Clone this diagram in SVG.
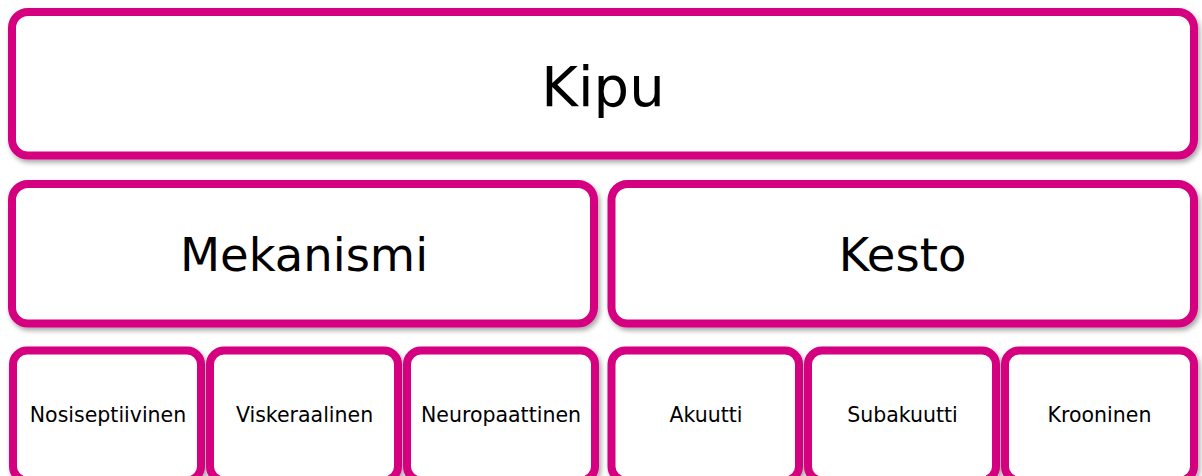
<svg xmlns="http://www.w3.org/2000/svg" width="1202" height="476" viewBox="0 0 1202 476">
  <defs>
    <filter id="shadow" x="-5%" y="-5%" width="110%" height="120%">
      <feDropShadow dx="2" dy="3" stdDeviation="2.5" flood-color="#000" flood-opacity="0.35"/>
    </filter>
  </defs>
  <style>
    .box { fill: #ffffff; stroke: #D5007F; stroke-width: 8; filter: url(#shadow); }
    .label { font-family: "DejaVu Sans", Verdana, sans-serif; fill: #000000; text-anchor: middle; }
    .l1 { font-size: 56px; }
    .l2 { font-size: 46.5px; }
    .l3 { font-size: 20.5px; }
  </style>
  <rect width="1202" height="476" fill="#ffffff"/>

  <!-- connectors: none, the hierarchy is shown by stacked blocks -->
  <g id="connectors"></g>

  <g id="kipu">
    <rect class="box" x="12" y="12" width="1182" height="143.5" rx="16"/>
    <text class="label l1" x="603" y="106">Kipu</text>
  </g>

  <g id="mekanismi">
    <rect class="box" x="12" y="184" width="582" height="139.5" rx="16"/>
    <text class="label l2" x="304" y="271">Mekanismi</text>
  </g>

  <g id="kesto">
    <rect class="box" x="611.5" y="184" width="582.5" height="139.5" rx="16"/>
    <text class="label l2" x="902.5" y="271">Kesto</text>
  </g>

  <g id="nosiseptiivinen">
    <rect class="box" x="13" y="350.5" width="188" height="130" rx="14"/>
    <text class="label l3" x="108" y="422">Nosiseptiivinen</text>
  </g>

  <g id="viskeraalinen">
    <rect class="box" x="210" y="350.5" width="188" height="130" rx="14"/>
    <text class="label l3" x="304.5" y="422">Viskeraalinen</text>
  </g>

  <g id="neuropaattinen">
    <rect class="box" x="407" y="350.5" width="188" height="130" rx="14"/>
    <text class="label l3" x="501" y="422">Neuropaattinen</text>
  </g>

  <g id="akuutti">
    <rect class="box" x="611.5" y="350.5" width="187.5" height="130" rx="14"/>
    <text class="label l3" x="706" y="422">Akuutti</text>
  </g>

  <g id="subakuutti">
    <rect class="box" x="808" y="350.5" width="188" height="130" rx="14"/>
    <text class="label l3" x="902.5" y="422">Subakuutti</text>
  </g>

  <g id="krooninen">
    <rect class="box" x="1005" y="350.5" width="189" height="130" rx="14"/>
    <text class="label l3" x="1099.5" y="422">Krooninen</text>
  </g>
</svg>
